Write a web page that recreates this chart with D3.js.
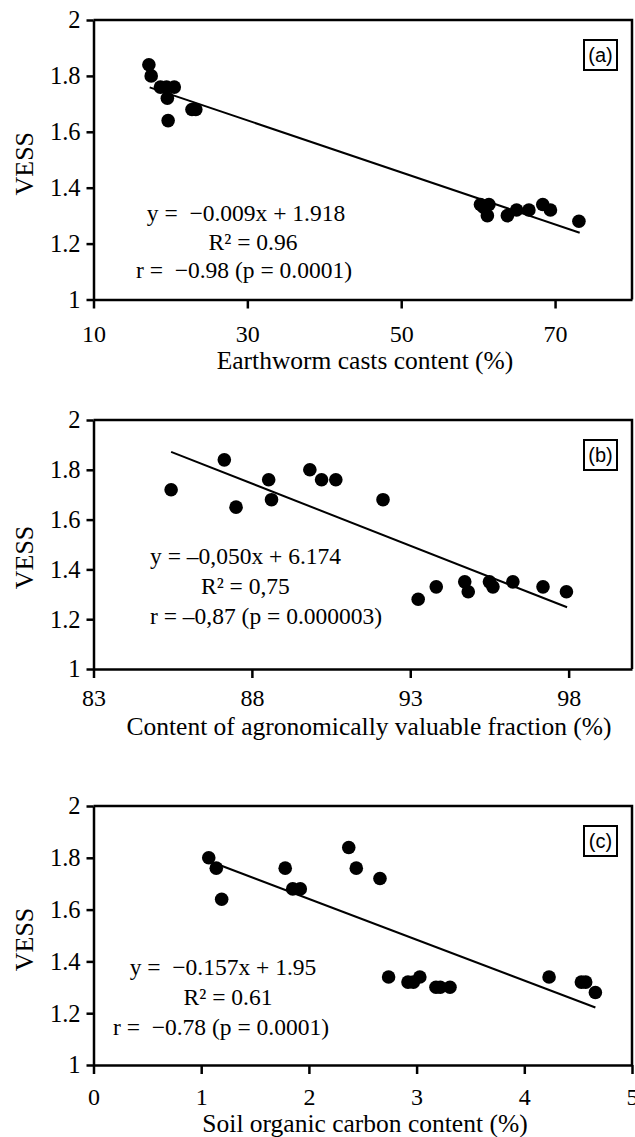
<!DOCTYPE html>
<html>
<head>
<meta charset="utf-8">
<script src="https://cdn.jsdelivr.net/npm/d3@7"></script>
<style>
  body { margin: 0; background: #fff; }
  svg { display: block; }
</style>
</head>
<body>
<div id="chart"></div>
<script>
// Panel (a): earthworm casts content vs VESS
const castsX = [17.2, 17.5, 18.7, 19.5, 20.5, 19.6, 19.7, 22.8, 23.3,
                60.3, 60.7, 61.4, 61.2, 63.8, 65.0, 66.6, 68.4, 69.4, 73.1];
const castsVess = [1.84, 1.80, 1.76, 1.76, 1.76, 1.72, 1.64, 1.68, 1.68,
                   1.34, 1.33, 1.34, 1.30, 1.30, 1.32, 1.32, 1.34, 1.32, 1.28];
const castsFit = [[17.3, 1.759], [73.2, 1.239]];
const castsTicks = [10, 30, 50, 70];
const castsEq = ["y =  \u22120.009x + 1.918", "R\u00b2 = 0.96", "r =  \u22120.98 (p = 0.0001)"];

// Panel (b): agronomically valuable fraction vs VESS
const fracX = [85.45, 87.13, 87.5, 88.53, 88.62, 89.83, 90.2, 90.65, 92.14,
               93.25, 93.82, 94.72, 94.83, 95.5, 95.61, 96.24, 97.19, 97.93];
const fracVess = [1.72, 1.84, 1.65, 1.76, 1.68, 1.80, 1.76, 1.76, 1.68,
                  1.28, 1.33, 1.35, 1.31, 1.35, 1.33, 1.35, 1.33, 1.31];
const fracFit = [[85.45, 1.872], [97.95, 1.248]];
const fracTicks = [83, 88, 93, 98];
const fracEq = ["y = \u20130,050x + 6.174", "R\u00b2 = 0,75", "r = \u20130,87 (p = 0.000003)"];

// Panel (c): soil organic carbon vs VESS
const socX = [1.07, 1.14, 1.19, 1.78, 1.85, 1.92, 2.37, 2.44, 2.66,
              2.74, 2.92, 2.97, 3.03, 3.18, 3.22, 3.31, 4.23, 4.53, 4.57, 4.66];
const socVess = [1.80, 1.76, 1.64, 1.76, 1.68, 1.68, 1.84, 1.76, 1.72,
                 1.34, 1.32, 1.32, 1.34, 1.30, 1.30, 1.30, 1.34, 1.32, 1.32, 1.28];
const socFit = [[1.157, 1.774], [4.66, 1.222]];
const socTicks = [0, 1, 2, 3, 4, 5];
const socEq = ["y =  \u22120.157x + 1.95", "R\u00b2 = 0.61", "r =  \u22120.78 (p = 0.0001)"];

const vessTicks = [1, 1.2, 1.4, 1.6, 1.8, 2];

const width = 635;
const height = 1137;
const left = 93.5, right = 632;
const serif = "'Liberation Serif', 'Times New Roman', serif";

const panels = [
  { x: castsX, y: castsVess, fit: castsFit, ticks: castsTicks, xDomain: [10, 80],
    eq: castsEq, tag: "(a)", xLabel: "Earthworm casts content (%)",
    top: 20, bottom: 299.5, tickDy: 42, labelDy: 69, labelX: 365, vessDy: 4,
    eqPos: [[246, 221, "middle"], [253, 250, "middle"], [244, 278, "middle"]] },
  { x: fracX, y: fracVess, fit: fracFit, ticks: fracTicks, xDomain: [83, 100],
    eq: fracEq, tag: "(b)", xLabel: "Content of agronomically valuable fraction (%)",
    top: 420, bottom: 669, tickDy: 37, labelDy: 66, labelX: 369, vessDy: 13,
    eqPos: [[150, 564, "start"], [201, 594, "start"], [150, 624, "start"]] },
  { x: socX, y: socVess, fit: socFit, ticks: socTicks, xDomain: [0, 5],
    eq: socEq, tag: "(c)", xLabel: "Soil organic carbon content (%)",
    top: 806, bottom: 1065, tickDy: 40, labelDy: 67, labelX: 365, vessDy: 4,
    eqPos: [[223, 975, "middle"], [228, 1005, "middle"], [221, 1035, "middle"]] }
];

const svg = d3.select("#chart")
  .append("svg")
  .attr("width", width)
  .attr("height", height)
  .attr("viewBox", `0 0 ${width} ${height}`);

panels.forEach(p => {
  const x = d3.scaleLinear().domain(p.xDomain).range([left, right]);
  const y = d3.scaleLinear().domain([1, 2]).range([p.bottom, p.top]);
  const g = svg.append("g");

  // frame: top and right border
  g.append("path")
    .attr("d", `M${left},${p.top}H${right}V${p.bottom}`)
    .attr("fill", "none")
    .attr("stroke", "#000")
    .attr("stroke-width", 2.5);

  // y axis
  const ya = g.append("g")
    .attr("transform", `translate(${left},0)`)
    .call(d3.axisLeft(y).tickValues(vessTicks).tickSize(7).tickSizeOuter(0)
      .tickPadding(6).tickFormat(d => String(d)));
  ya.select(".domain").attr("stroke-width", 2.5);
  ya.selectAll(".tick line").attr("stroke-width", 2.5);
  ya.selectAll(".tick text")
    .attr("font-family", serif)
    .attr("font-size", 24.5)
    .attr("fill", "#000");

  // x axis
  const xa = g.append("g")
    .attr("transform", `translate(0,${p.bottom})`)
    .call(d3.axisBottom(x).tickValues(p.ticks).tickSize(9).tickSizeOuter(0)
      .tickFormat(d => String(d)));
  xa.select(".domain").attr("stroke-width", 2.5);
  xa.selectAll(".tick line").attr("stroke-width", 2.5);
  xa.selectAll(".tick text")
    .attr("font-family", serif)
    .attr("font-size", 24)
    .attr("fill", "#000")
    .attr("dy", null)
    .attr("y", p.tickDy);

  // axis titles
  g.append("text")
    .attr("x", p.labelX)
    .attr("y", p.bottom + p.labelDy)
    .attr("text-anchor", "middle")
    .attr("font-family", serif)
    .attr("font-size", 25.5)
    .text(p.xLabel);

  g.append("text")
    .attr("transform", `translate(33,${(p.top + p.bottom) / 2 + p.vessDy}) rotate(-90)`)
    .attr("text-anchor", "middle")
    .attr("font-family", serif)
    .attr("font-size", 26)
    .text("VESS");

  // fitted line
  g.append("line")
    .attr("x1", x(p.fit[0][0])).attr("y1", y(p.fit[0][1]))
    .attr("x2", x(p.fit[1][0])).attr("y2", y(p.fit[1][1]))
    .attr("stroke", "#000")
    .attr("stroke-width", 2);

  // points
  g.selectAll("circle")
    .data(p.x.map((v, i) => [v, p.y[i]]))
    .join("circle")
    .attr("cx", d => x(d[0]))
    .attr("cy", d => y(d[1]))
    .attr("r", 6.8)
    .attr("fill", "#000");

  // equation text
  p.eq.forEach((t, i) => {
    g.append("text")
      .attr("x", p.eqPos[i][0])
      .attr("y", p.eqPos[i][1])
      .attr("text-anchor", p.eqPos[i][2])
      .attr("font-family", serif)
      .attr("font-size", 23.5)
      .attr("xml:space", "preserve")
      .style("white-space", "pre")
      .text(t);
  });

  // panel tag box
  g.append("rect")
    .attr("x", 584).attr("y", p.top + 20)
    .attr("width", 33).attr("height", 30)
    .attr("fill", "#fff")
    .attr("stroke", "#000")
    .attr("stroke-width", 2);
  g.append("text")
    .attr("x", 600.5).attr("y", p.top + 42)
    .attr("text-anchor", "middle")
    .attr("font-family", "'Liberation Sans', Arial, sans-serif")
    .attr("font-size", 20)
    .text(p.tag);
});
</script>
</body>
</html>
